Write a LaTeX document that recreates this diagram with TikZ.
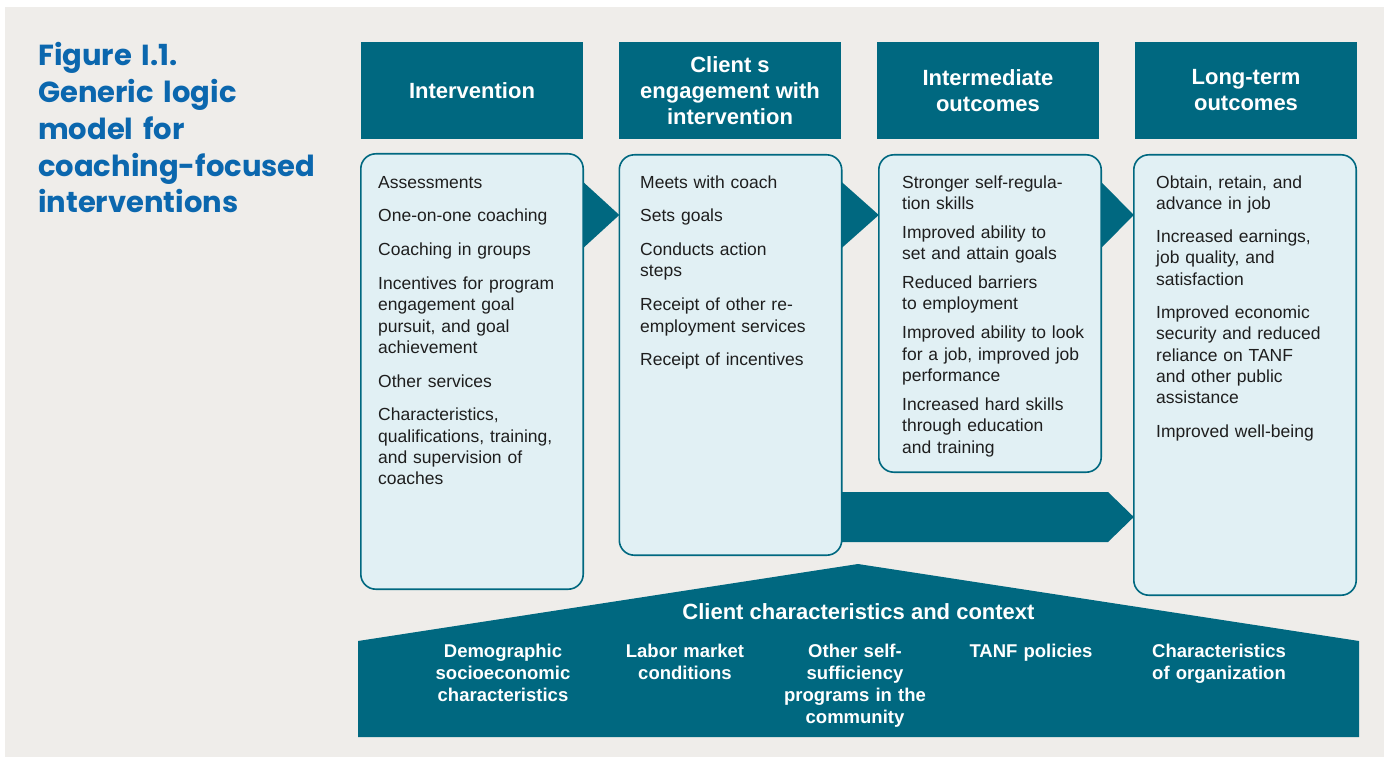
\documentclass[tikz,border=0pt]{standalone}
\usepackage{fontspec}
\setmainfont{Liberation Sans}
\newfontfamily\titlefont{Poppins}
\definecolor{logicteal}{RGB}{0,104,128}
\definecolor{logicpale}{RGB}{225,240,244}
\definecolor{logicgray}{RGB}{239,237,234}
\definecolor{logicblue}{RGB}{11,103,174}
\definecolor{logicink}{RGB}{30,30,30}
\begin{document}
\begin{tikzpicture}
  [x=1pt,y=-1pt,
  head/.style={fill=logicteal,text=white,minimum width=222pt,minimum height=97pt,inner sep=0pt,
    align=center,font=\fontsize{22}{26}\selectfont\bfseries},
  card/.style={minimum width=222pt,inner sep=0pt},
  cardline/.style={draw=logicteal,line width=1.6pt,fill=logicpale,rounded corners=15pt},
  items/.style={anchor=base west,inner sep=0pt,text width=195pt,align=left,text=logicink,
    font=\fontsize{17.5}{21.3}\selectfont},
  ctx/.style={anchor=base,inner sep=0pt,text width=180pt,text=white,align=center,
    font=\fontsize{18.5}{22}\selectfont\bfseries}]
  \useasboundingbox (0,0) rectangle (1384,757);
  \fill[logicgray] (5,7) rectangle (1384,757);
  \node[anchor=base west,inner sep=0pt,text width=320pt,align=left,text=logicblue,
    font=\titlefont\bfseries\fontsize{29}{36.75}\selectfont] (title) at (38,66)
    {Figure I.1.\\Generic logic\\model for\\coaching-focused\\interventions};
  \node[head] (h1) at (472,90.5) {Intervention};
  \node[head] (h2) at (730,90.5) {Client s\\engagement with\\intervention};
  \node[head] (h3) at (988,90.5) {Intermediate\\outcomes};
  \node[head] (h4) at (1246,90.5) {Long-term\\outcomes};
  \node[card,minimum height=435pt] (c1) at (472,371.5) {};
  \node[card,minimum height=400pt] (c2) at (730.5,355) {};
  \node[card,minimum height=317pt] (c3) at (990,313.5) {};
  \node[card,minimum height=440pt] (c4) at (1245,375) {};
  \foreach \from/\to in {c1/c2,c2/c3,c3/c4}
    \fill[logicteal] (\from.east |- 0,182) -- (\to.west |- 0,215) -- (\from.east |- 0,248) -- cycle;
  \fill[logicteal] (c2.east |- 0,492) -- (1108,492) -- (c4.west |- 0,517) -- (1108,542)
    -- (c2.east |- 0,542) -- cycle;
  \foreach \n in {c1,c2,c3,c4}
    \draw[cardline] (\n.north west) rectangle (\n.south east);
  \fill[logicteal] (358,737) -- (358,641) -- (858,564) -- (1359,641) -- (1359,737) -- cycle;
  \node[items] (t1) at (378,188) {Assessments\\[12.5pt]
    One-on-one coaching\\[12.5pt]
    Coaching in groups\\[12.5pt]
    Incentives for program\\engagement goal\\pursuit, and goal\\achievement\\[12.5pt]
    Other services\\[12.5pt]
    Characteristics,\\qualifications, training,\\and supervision of\\coaches};
  \node[items] (t2) at (640,188) {Meets with coach\\[12.5pt]
    Sets goals\\[12.5pt]
    Conducts action\\steps\\[12.5pt]
    Receipt of other re-\\employment services\\[12.5pt]
    Receipt of incentives};
  \node[items] (t3) at (902,188) {Stronger self-regula-\\tion skills\\[7.7pt]
    Improved ability to\\set and attain goals\\[7.7pt]
    Reduced barriers\\to employment\\[7.7pt]
    Improved ability to look\\for a job, improved job\\performance\\[7.7pt]
    Increased hard skills\\through education\\and training};
  \node[items] (t4) at (1156,188) {Obtain, retain, and\\advance in job\\[12pt]
    Increased earnings,\\job quality, and\\satisfaction\\[12pt]
    Improved economic\\security and reduced\\reliance on TANF\\and other public\\assistance\\[12pt]
    Improved well-being};
  \node[ctx,text width=,font=\fontsize{22}{26}\selectfont\bfseries] (context) at (858.5,619)
    {Client characteristics and context};
  \foreach \x/\name/\txt in {503/demo/{Demographic\\socioeconomic\\characteristics},
    685/labor/{Labor market\\conditions},
    855/other/{Other self-\\sufficiency\\programs in the\\community},
    1031/tanf/{TANF policies},
    1219/org/{Characteristics\\of organization}}
    \node[ctx] (\name) at (\x,657) {\txt};
\end{tikzpicture}
\end{document}
